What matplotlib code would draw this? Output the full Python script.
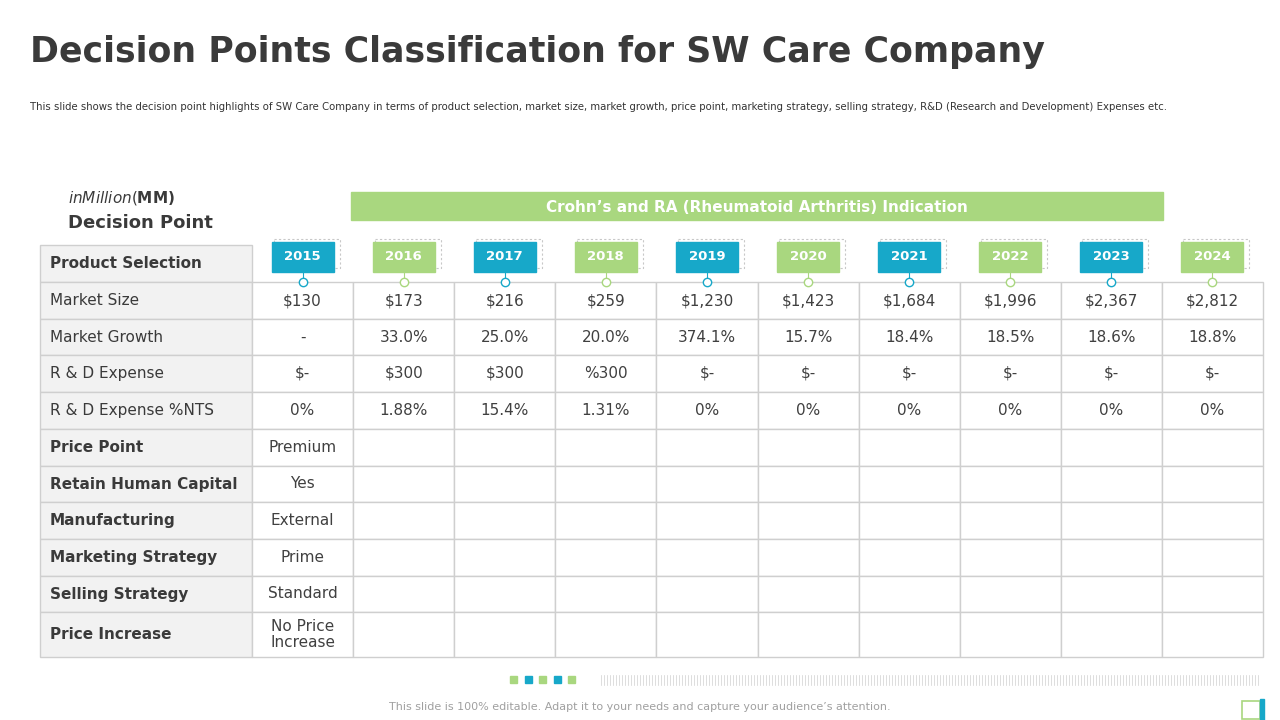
import matplotlib
matplotlib.use("Agg")
import matplotlib.pyplot as plt
from matplotlib.patches import Rectangle

BLUE, GREEN, GRID, DARK = "#17a8c9", "#a9d77f", "#cfcfcf", "#3a3a3a"

years = ["2015", "2016", "2017", "2018", "2019", "2020", "2021", "2022", "2023", "2024"]
row_labels = ["Market Size", "Market Growth", "R & D Expense", "R & D Expense %NTS",
              "Price Point", "Retain Human Capital", "Manufacturing", "Marketing Strategy",
              "Selling Strategy", "Price Increase"]
bold_rows = {"Price Point", "Retain Human Capital", "Manufacturing", "Marketing Strategy",
             "Selling Strategy", "Price Increase"}
market_size = ["$130", "$173", "$216", "$259", "$1,230", "$1,423", "$1,684", "$1,996", "$2,367", "$2,812"]
market_growth = ["-", "33.0%", "25.0%", "20.0%", "374.1%", "15.7%", "18.4%", "18.5%", "18.6%", "18.8%"]
rd_expense = ["$-", "$300", "$300", "%300", "$-", "$-", "$-", "$-", "$-", "$-"]
rd_nts = ["0%", "1.88%", "15.4%", "1.31%", "0%", "0%", "0%", "0%", "0%", "0%"]
first_col = ["Premium", "Yes", "External", "Prime", "Standard", "No Price\nIncrease"]

values = [market_size, market_growth, rd_expense, rd_nts] + [[v] + [""] * 9 for v in first_col]

fig = plt.figure(figsize=(12.8, 7.2), dpi=100)
ax = fig.add_axes([0, 0, 1, 1])
ax.set_xlim(0, 1280)
ax.set_ylim(720, 0)
ax.axis("off")

ax.text(30, 52, "Decision Points Classification for SW Care Company", fontsize=25,
        fontweight="bold", color=DARK, va="center")
ax.text(30, 107, "This slide shows the decision point highlights of SW Care Company in terms of product "
        "selection, market size, market growth, price point, marketing strategy, selling strategy, "
        "R&D (Research and Development) Expenses etc.", fontsize=7.3, color="#333", va="center")

ax.text(68, 198, "$ in Million ($MM)", fontsize=11, fontweight="bold", color=DARK, va="center")
ax.text(68, 223, "Decision Point", fontsize=13, fontweight="bold", color=DARK, va="center")
ax.add_patch(Rectangle((351, 192), 812, 28, color=GREEN))
ax.text(757, 207, "Crohn’s and RA (Rheumatoid Arthritis) Indication", fontsize=11,
        fontweight="bold", color="white", ha="center", va="center")

x0, lab_w = 40, 212
col_w = (1263 - 252) / len(years)
edges = [245, 282, 319, 355, 392, 429, 466, 502, 539, 576, 612, 657]

# header label cell
ax.add_patch(Rectangle((x0, edges[0]), lab_w, edges[1] - edges[0], facecolor="#f2f2f2",
                       edgecolor=GRID, lw=1))
ax.text(x0 + 10, (edges[0] + edges[1]) / 2, "Product Selection", fontsize=11,
        fontweight="bold", color=DARK, va="center")

for i, lab in enumerate(row_labels):
    top, bot = edges[i + 1], edges[i + 2]
    cy = (top + bot) / 2
    ax.add_patch(Rectangle((x0, top), lab_w, bot - top, facecolor="#f2f2f2", edgecolor=GRID, lw=1))
    ax.text(x0 + 10, cy, lab, fontsize=11, color=DARK, va="center",
            fontweight="bold" if lab in bold_rows else "normal")
    for j, v in enumerate(values[i]):
        cx0 = 252 + j * col_w
        ax.add_patch(Rectangle((cx0, top), col_w, bot - top, facecolor="white", edgecolor=GRID, lw=1))
        ax.text(cx0 + col_w / 2, cy, v, fontsize=11, color="#404040", ha="center", va="center",
                linespacing=1.1)

for j, y in enumerate(years):
    cx = 252 + (j + 0.5) * col_w
    c = BLUE if j % 2 == 0 else GREEN
    ax.add_patch(Rectangle((cx - 29, 239), 66, 29, fill=False, edgecolor="#c8c8c8", lw=0.8, ls=(0, (2, 2))))
    ax.add_patch(Rectangle((cx - 31, 242), 62, 30, color=c))
    ax.text(cx, 257, y, fontsize=9.5, fontweight="bold", color="white", ha="center", va="center")
    ax.plot([cx, cx], [272, 279], color=c, lw=0.8)
    ax.plot(cx, 282, "o", ms=6, mfc="white", mec=c, mew=1, zorder=5)

for k, c in enumerate([GREEN, BLUE, GREEN, BLUE, GREEN]):
    ax.add_patch(Rectangle((510 + k * 14.5, 676), 7, 7, color=c))
for k in range(220):
    xx = 601 + k * 3
    if xx > 1278:
        break
    ax.plot([xx, xx], [675, 685], color="#d0d0d0", lw=0.5)
ax.text(640, 707, "This slide is 100% editable. Adapt it to your needs and capture your audience’s attention.",
        fontsize=8, color="#a0a0a0", ha="center", va="center")
ax.add_patch(Rectangle((1242, 701), 18, 18, fill=False, edgecolor=GREEN, lw=1.2))
ax.add_patch(Rectangle((1260, 699), 4, 21, color=BLUE))

fig.savefig("out.png", dpi=100)
